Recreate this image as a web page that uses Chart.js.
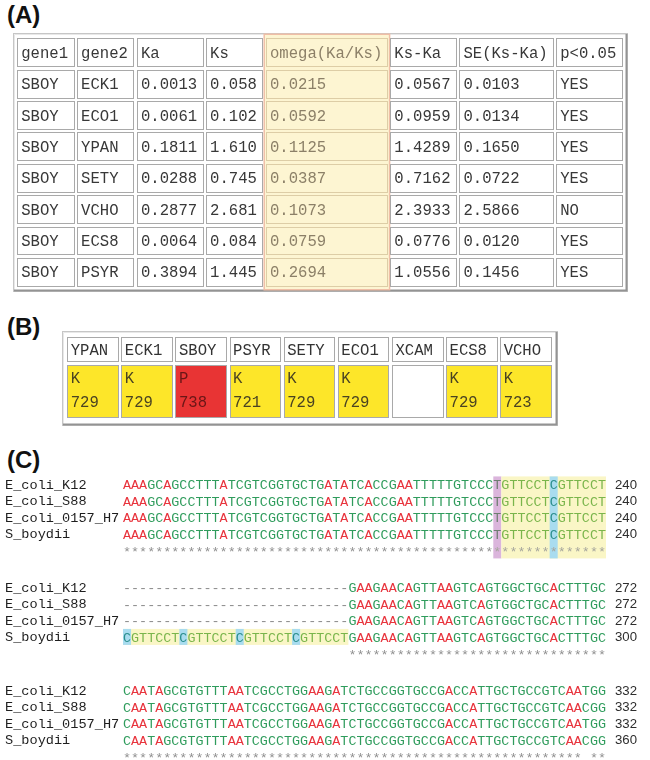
<!DOCTYPE html>
<html><head><meta charset="utf-8">
<script src="https://cdn.jsdelivr.net/npm/chart.js"></script>
<style>
html,body{margin:0;padding:0;background:#fff;width:650px;height:760px;overflow:hidden;}
.lbl{position:absolute;font:bold 24px "Liberation Sans",Arial,sans-serif;color:#111;line-height:24px;}
canvas{position:absolute;}
</style></head><body>
<div class="lbl" style="left:7px;top:3px">(A)</div>
<div class="lbl" style="left:7px;top:315px">(B)</div>
<div class="lbl" style="left:7px;top:448px">(C)</div>
<canvas id="ca" width="615" height="259" style="left:13px;top:33px"></canvas>
<canvas id="cb" width="496" height="95" style="left:62px;top:331px"></canvas>
<canvas id="c1" width="650" height="88" style="left:0;top:473px"></canvas>
<canvas id="c2" width="650" height="88" style="left:0;top:576px"></canvas>
<canvas id="c3" width="650" height="88" style="left:0;top:679px"></canvas>
<script>
// ---------- (A) Ka/Ks table ----------
const headersA = ['gene1','gene2','Ka','Ks','omega(Ka/Ks)','Ks-Ka','SE(Ks-Ka)','p<0.05'];
const gene1 = ['SBOY','SBOY','SBOY','SBOY','SBOY','SBOY','SBOY'];
const gene2 = ['ECK1','ECO1','YPAN','SETY','VCHO','ECS8','PSYR'];
const ka = [0.0013,0.0061,0.1811,0.0288,0.2877,0.0064,0.3894];
const ks = [0.058,0.102,1.610,0.745,2.681,0.084,1.445];
const omega = [0.0215,0.0592,0.1125,0.0387,0.1073,0.0759,0.2694];
const ksMinusKa = [0.0567,0.0959,1.4289,0.7162,2.3933,0.0776,1.0556];
const seKsKa = [0.0103,0.0134,0.1650,0.0722,2.5866,0.0120,0.1456];
const pSig = ['YES','YES','YES','YES','NO','YES','YES'];

// ---------- (B) residue table ----------
const speciesB = ['YPAN','ECK1','SBOY','PSYR','SETY','ECO1','XCAM','ECS8','VCHO'];
const residueB = ['K','K','P','K','K','K','','K','K'];
const positionB = [729,729,738,721,729,729,null,729,723];

// ---------- (C) alignment ----------
const seqNames = ['E_coli_K12','E_coli_S88','E_coli_0157_H7','S_boydii'];
const block1Seqs = [
  'AAAGCAGCCT'+'TTATCGTCGG'+'TGCTGATATC'+'ACCGAATTTT'+'TGTCCCTGTT'+'CCTCGTTCCT',
  'AAAGCAGCCT'+'TTATCGTCGG'+'TGCTGATATC'+'ACCGAATTTT'+'TGTCCCTGTT'+'CCTCGTTCCT',
  'AAAGCAGCCT'+'TTATCGTCGG'+'TGCTGATATC'+'ACCGAATTTT'+'TGTCCCTGTT'+'CCTCGTTCCT',
  'AAAGCAGCCT'+'TTATCGTCGG'+'TGCTGATATC'+'ACCGAATTTT'+'TGTCCCTGTT'+'CCTCGTTCCT'
];
const block1Cons = '**********'+'**********'+'**********'+'**********'+'**********'+'**********';
const block1Ends = [240,240,240,240];
const block1Marks = [
  {rows:[0,4], from:47, to:47, kind:'purple'},
  {rows:[0,4], from:48, to:60, kind:'yellow'},
  {rows:[0,4], from:54, to:54, kind:'blue'}
];
const block2Seqs = [
  '----------'+'----------'+'--------'+'GAAGAACAGTTAAGTCAGTGGCTGCACTTTGC',
  '----------'+'----------'+'--------'+'GAAGAACAGTTAAGTCAGTGGCTGCACTTTGC',
  '----------'+'----------'+'--------'+'GAAGAACAGTTAAGTCAGTGGCTGCACTTTGC',
  'CGTTCCTCGT'+'TCCTCGTTCC'+'TCGTTCCTGA'+'AGAACAGTTA'+'AGTCAGTGGC'+'TGCACTTTGC'
];
const block2Cons = '          '+'          '+'        '+'**'+'**********'+'**********'+'**********';
const block2Ends = [272,272,272,300];
const block2Marks = [
  {rows:[3,3], from:1, to:28, kind:'yellow'},
  {rows:[3,3], from:1, to:1, kind:'blue'},
  {rows:[3,3], from:8, to:8, kind:'blue'},
  {rows:[3,3], from:15, to:15, kind:'blue'},
  {rows:[3,3], from:22, to:22, kind:'blue'}
];
const block3Seqs = [
  'CAATAGCGTG'+'TTTAATCGCC'+'TGGAAGATCT'+'GCCGGTGCCG'+'ACCATTGCTG'+'CCGTCAATGG',
  'CAATAGCGTG'+'TTTAATCGCC'+'TGGAAGATCT'+'GCCGGTGCCG'+'ACCATTGCTG'+'CCGTCAACGG',
  'CAATAGCGTG'+'TTTAATCGCC'+'TGGAAGATCT'+'GCCGGTGCCG'+'ACCATTGCTG'+'CCGTCAATGG',
  'CAATAGCGTG'+'TTTAATCGCC'+'TGGAAGATCT'+'GCCGGTGCCG'+'ACCATTGCTG'+'CCGTCAACGG'
];
const block3Cons = '**********'+'**********'+'**********'+'**********'+'**********'+'******* **';
const block3Ends = [332,332,332,360];
const block3Marks = [];

// ---------- styles ----------
const MONO = '"Liberation Mono","DejaVu Sans Mono",monospace';
const FONT_TBL = '15.6px ' + MONO;
const GAP = 2.5;
const OMEGA_COL = 4;
const markFill = {yellow:'#faf6c6', blue:'#a9dcef', purple:'#dbb5dc'};

function frame3D(ctx, w, h) {
  ctx.save();
  ctx.fillStyle = '#fff'; ctx.fillRect(0, 0, w, h);
  ctx.lineWidth = 1;
  ctx.strokeStyle = '#c6c6c6'; ctx.strokeRect(0.5, 0.5, w - 1, h - 1);
  ctx.strokeStyle = '#e8e8e8';
  ctx.beginPath(); ctx.moveTo(1.5, h - 2); ctx.lineTo(1.5, 1.5); ctx.lineTo(w - 2, 1.5); ctx.stroke();
  ctx.strokeStyle = '#939393'; ctx.lineWidth = 2;
  ctx.beginPath(); ctx.moveTo(1, h - 1.5); ctx.lineTo(w - 1.5, h - 1.5); ctx.lineTo(w - 1.5, 1); ctx.stroke();
  ctx.restore();
}
function cellRect(ctx, l, t, r, b, fill, stroke) {
  const L = Math.round(l), T = Math.round(t), R = Math.round(r), B = Math.round(b);
  ctx.fillStyle = fill; ctx.fillRect(L, T, R - L, B - T);
  ctx.strokeStyle = stroke; ctx.lineWidth = 1; ctx.strokeRect(L + 0.5, T + 0.5, R - L - 1, B - T - 1);
}

// ---------- chart A ----------
const colsA = [gene1, gene2, ka.map(v => v.toFixed(4)), ks.map(v => v.toFixed(3)),
  omega.map(v => v.toFixed(4)), ksMinusKa.map(v => v.toFixed(4)), seKsKa.map(v => v.toFixed(4)), pSig];
const measCtx = document.createElement('canvas').getContext('2d');
measCtx.font = FONT_TBL;
const colWidthA = headersA.map((h, i) =>
  Math.max(measCtx.measureText(h).width, ...colsA[i].map(t => measCtx.measureText(t).width)) + 14);
const rowKeysA = ['header'].concat(gene2);

const tableAPlugin = {
  id: 'tableA',
  afterDraw(chart) {
    const ctx = chart.ctx, W = chart.width, H = chart.height;
    frame3D(ctx, W, H);
    const metas = chart.data.datasets.map((d, i) => chart.getDatasetMeta(i));
    const om = metas[OMEGA_COL].data[0];
    const ol = Math.min(om.base, om.x) - 0.5, orr = Math.max(om.base, om.x) + 0.5;
    ctx.fillStyle = '#fdf5d2'; ctx.fillRect(ol, 1, orr - ol, H - 3);
    ctx.strokeStyle = '#f0bea6'; ctx.lineWidth = 1.5; ctx.strokeRect(ol, 1.25, orr - ol, H - 3.5);
    ctx.font = FONT_TBL; ctx.textBaseline = 'middle'; ctx.textAlign = 'left';
    metas.forEach((meta, c) => {
      meta.data.forEach((el, r) => {
        const l = Math.min(el.base, el.x), rr = Math.max(el.base, el.x);
        const t = el.y - el.height / 2, b = el.y + el.height / 2;
        const isOm = c === OMEGA_COL;
        cellRect(ctx, l + GAP / 2, t + GAP / 2, rr - GAP / 2, b - GAP / 2,
          isOm ? '#fdf5d2' : '#ffffff', isOm ? '#ddcda6' : '#a9a9a9');
        const txt = r === 0 ? headersA[c] : colsA[c][r - 1];
        ctx.fillStyle = isOm ? '#8c8068' : '#383838';
        ctx.fillText(txt, l + GAP / 2 + 4, el.y + 1);
      });
    });
  }
};

new Chart(document.getElementById('ca'), {
  type: 'bar',
  data: {
    labels: rowKeysA,
    datasets: headersA.map((h, i) => ({
      label: h, data: rowKeysA.map(() => colWidthA[i]),
      backgroundColor: 'rgba(0,0,0,0)', borderWidth: 0,
      barPercentage: 1, categoryPercentage: 1
    }))
  },
  options: {
    indexAxis: 'y', responsive: false, animation: false, events: [],
    layout: {padding: {left: 3, right: 4, top: 4, bottom: 4}},
    scales: {
      x: {stacked: true, display: false, min: 0, max: colWidthA.reduce((a, b) => a + b, 0)},
      y: {stacked: true, display: false}
    },
    plugins: {legend: {display: false}, tooltip: {enabled: false}}
  },
  plugins: [tableAPlugin]
});

// ---------- chart B ----------
const residueFill = {K: '#fde629', P: '#e83434', '': '#ffffff'};
const residueText = {K: '#4a4322', P: '#6a1616', '': '#444'};
const tableBPlugin = {
  id: 'tableB',
  afterDraw(chart) {
    const ctx = chart.ctx;
    frame3D(ctx, chart.width, chart.height);
    ctx.font = FONT_TBL; ctx.textBaseline = 'middle'; ctx.textAlign = 'left';
    const head = chart.getDatasetMeta(0), val = chart.getDatasetMeta(1);
    speciesB.forEach((sp, i) => {
      [head.data[i], val.data[i]].forEach((el, k) => {
        const l = el.x - el.width / 2 + GAP / 2, r = el.x + el.width / 2 - GAP / 2;
        const t = Math.min(el.y, el.base) + GAP / 2, b = Math.max(el.y, el.base) - GAP / 2;
        if (k === 0) {
          cellRect(ctx, l, t, r, b, '#ffffff', '#a9a9a9');
          ctx.fillStyle = '#333';
          ctx.fillText(sp, l + 3.5, (t + b) / 2 + 1);
        } else {
          const res = residueB[i];
          cellRect(ctx, l, t, r, b, residueFill[res], '#a9a9a9');
          ctx.fillStyle = residueText[res];
          if (res) ctx.fillText(res, l + 3.5, t + (b - t) * 0.27);
          if (positionB[i] !== null) ctx.fillText(String(positionB[i]), l + 3.5, t + (b - t) * 0.71);
        }
      });
    });
  }
};
new Chart(document.getElementById('cb'), {
  type: 'bar',
  data: {
    labels: speciesB,
    datasets: [
      {label: 'species', data: speciesB.map(() => 1), backgroundColor: 'rgba(0,0,0,0)', borderWidth: 0, barPercentage: 1, categoryPercentage: 1},
      {label: 'residue/position', data: speciesB.map(() => 2), backgroundColor: 'rgba(0,0,0,0)', borderWidth: 0, barPercentage: 1, categoryPercentage: 1}
    ]
  },
  options: {
    responsive: false, animation: false, events: [],
    layout: {padding: {left: 4, right: 5, top: 5, bottom: 7}},
    scales: {
      x: {stacked: true, display: false},
      y: {stacked: true, display: false, reverse: true, min: 0, max: 3}
    },
    plugins: {legend: {display: false}, tooltip: {enabled: false}}
  },
  plugins: [tableBPlugin]
});

// ---------- chart C ----------
function letterColor(ch, kind) {
  if (ch === '-' ) return '#8a8a8a';
  if (ch === '*') return kind ? '#a5a59c' : '#8f8f8f';
  if (kind === 'blue') return '#2a8e8c';
  if (kind === 'purple') return '#6e7d70';
  if (ch === 'A') return '#e8343d';
  if (kind === 'yellow') return '#7ab54b';
  return '#2f9c5c';
}
function makeBlock(id, seqs, cons, ends, marks) {
  const rowLabels = seqNames.concat([' ']);
  const endLabels = ends.map(String).concat([' ']);
  const rows = seqs.concat([cons]);
  const plugin = {
    id: 'align_' + id,
    beforeDatasetsDraw(chart) {
      const ctx = chart.ctx, xs = chart.scales.x, ys = chart.scales.y;
      const pitch = ys.getPixelForValue(1) - ys.getPixelForValue(0);
      marks.forEach(m => {
        const l = xs.getPixelForValue(m.from - 0.5), r = xs.getPixelForValue(m.to + 0.5);
        const t = ys.getPixelForValue(m.rows[0]) - pitch * 0.52;
        const b = ys.getPixelForValue(m.rows[1]) + pitch * 0.45;
        ctx.fillStyle = markFill[m.kind];
        ctx.fillRect(l, t, r - l, b - t);
      });
    },
    afterDatasetsDraw(chart) {
      const ctx = chart.ctx;
      ctx.save();
      ctx.font = '13.4px ' + MONO; ctx.textAlign = 'center'; ctx.textBaseline = 'middle';
      chart.data.datasets.forEach((ds, r) => {
        const meta = chart.getDatasetMeta(r);
        meta.data.forEach((pt, i) => {
          const ch = ds.data[i].ch;
          if (ch === ' ') return;
          let kind = null;
          marks.forEach(m => { if (r >= m.rows[0] && r <= m.rows[1] && ds.data[i].x >= m.from && ds.data[i].x <= m.to) kind = m.kind; });
          ctx.fillStyle = letterColor(ch, kind);
          ctx.fillText(ch, pt.x, ch === '*' ? pt.y + 1 : pt.y + 0.5);
        });
      });
      ctx.restore();
    }
  };
  const noPad = s => { s.paddingTop = 0; s.paddingBottom = 0; };
  new Chart(document.getElementById(id), {
    type: 'scatter',
    data: {
      datasets: rows.map((s, r) => ({
        label: rowLabels[r],
        data: Array.from(s).map((ch, i) => ({x: i + 1, y: rowLabels[r], ch})),
        pointRadius: 0, pointHoverRadius: 0, showLine: false
      }))
    },
    options: {
      responsive: false, animation: false, events: [],
      layout: {padding: {left: 5, right: 0, top: 12, bottom: 10}},
      scales: {
        x: {type: 'linear', min: 0.5, max: 60.5, display: false},
        y: {type: 'category', labels: rowLabels, position: 'left',
            grid: {display: false, drawTicks: false}, border: {display: false},
            ticks: {crossAlign: 'far', padding: 0, autoSkip: false, color: '#1e1e1e',
                    font: {family: MONO, size: 13.6}},
            afterFit(s) { s.width = 118; noPad(s); }},
        y2: {type: 'category', labels: endLabels, position: 'right',
            grid: {display: false, drawTicks: false}, border: {display: false},
            ticks: {crossAlign: 'near', padding: 9, autoSkip: false, color: '#2e2e2e',
                    font: {family: '"Liberation Sans", Arial, sans-serif', size: 13.2}},
            afterFit(s) { s.width = 44; noPad(s); }}
      },
      plugins: {legend: {display: false}, tooltip: {enabled: false}}
    },
    plugins: [plugin]
  });
}
makeBlock('c1', block1Seqs, block1Cons, block1Ends, block1Marks);
makeBlock('c2', block2Seqs, block2Cons, block2Ends, block2Marks);
makeBlock('c3', block3Seqs, block3Cons, block3Ends, block3Marks);
</script>
</body></html>
